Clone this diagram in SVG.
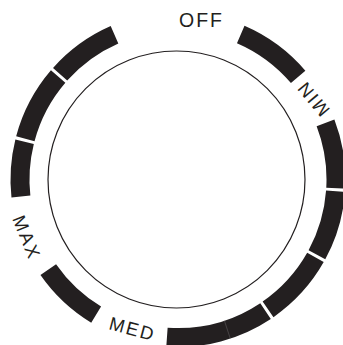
<svg xmlns="http://www.w3.org/2000/svg" width="343" height="345" viewBox="0 0 343 345">
<style>
.seg{fill:#231f20;stroke:none}
.lbl{font-family:"Liberation Sans",Arial,sans-serif;fill:#231f20;text-anchor:middle;letter-spacing:2px}
.dial{fill:none;stroke:#231f20;stroke-width:1.2}
</style>
<rect width="343" height="345" fill="#ffffff"/>
<g id="dial"><circle class="dial" cx="176.5" cy="179.5" r="128.5"/></g>
<g id="segments">
<path id="seg1" class="seg" d="M53.03,67.96 A167.5,167.5 0 0 1 110.68,26.12 L118.32,43.52 A148.5,148.5 0 0 0 67.2,80.61 Z"/>
<path id="seg2" class="seg" d="M16.16,136.3 A167.5,167.5 0 0 1 50.95,70.34 L65.36,82.72 A148.5,148.5 0 0 0 34.52,141.2 Z"/>
<path id="seg3" class="seg" d="M11.47,197.59 A167.5,167.5 0 0 1 15.37,139.4 L33.82,143.95 A148.5,148.5 0 0 0 30.36,195.54 Z"/>
<path id="seg4" class="seg" d="M91.23,322.78 A167.5,167.5 0 0 1 40.47,275.09 L56.07,264.25 A148.5,148.5 0 0 0 101.08,306.53 Z"/>
<path id="seg5" class="seg" d="M270.81,318.94 A167.5,167.5 0 0 1 166.31,346.6 L167.63,327.64 A148.5,148.5 0 0 0 260.28,303.13 Z"/>
<line id="seg5-division" x1="224.38" y1="320.58" x2="230.31" y2="338.63" stroke="#6a6668" stroke-width="0.5"/>
<path id="seg6" class="seg" d="M323.71,262.11 A167.5,167.5 0 0 1 273.48,317.13 L262.65,301.52 A148.5,148.5 0 0 0 307.18,252.74 Z"/>
<path id="seg7" class="seg" d="M345.03,191.91 A167.5,167.5 0 0 1 325.28,259.3 L308.58,250.25 A148.5,148.5 0 0 0 326.08,190.5 Z"/>
<path id="seg8" class="seg" d="M334.38,119.47 A167.5,167.5 0 0 1 345.25,188.71 L326.28,187.67 A148.5,148.5 0 0 0 316.64,126.28 Z"/>
<path id="seg9" class="seg" d="M244.51,25.77 A167.5,167.5 0 0 1 305.37,70.73 L290.92,83.06 A148.5,148.5 0 0 0 236.97,43.21 Z"/>
</g>
<g id="labels">
<text id="off" class="lbl" x="201.5" y="27" font-size="19.5">OFF</text>
<text id="min" class="lbl" font-size="18.5" transform="translate(313.5,99.5) rotate(-130)" x="1" y="6.6">MIN</text>
<text id="max" class="lbl" font-size="18.5" transform="translate(26.5,236.5) rotate(68)" x="1" y="6.6">MAX</text>
<text id="med" class="lbl" font-size="18.5" transform="translate(131.5,328.5) rotate(15)" x="1" y="6.6">MED</text>
</g>
</svg>
